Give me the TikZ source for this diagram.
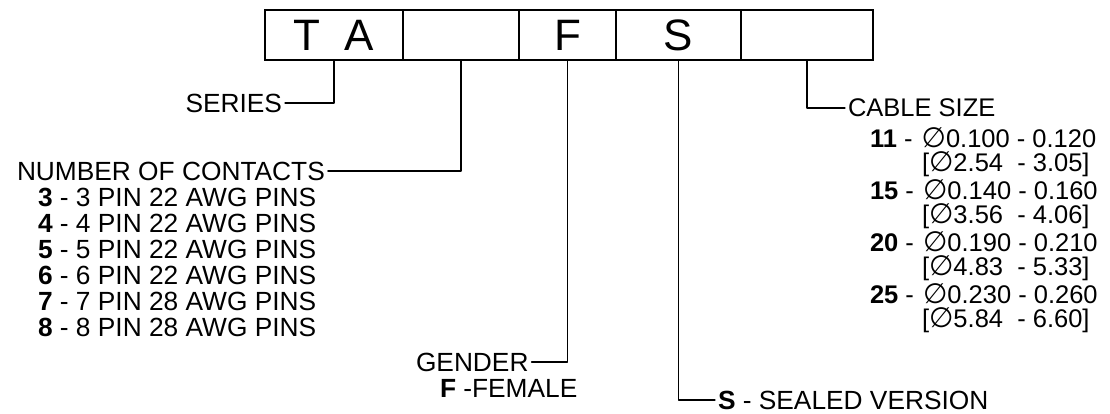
\documentclass[tikz,border=0pt]{standalone}
\usepackage{fontspec}
\setmainfont{Liberation Sans}
\newfontfamily\diafont{DejaVu Sans}
\usetikzlibrary{positioning}
\newcommand{\dia}{{\diafont\fontsize{28}{28}\selectfont ∅}}
\tikzset{
  cell/.style={draw=drawColor,line width=1.3pt,minimum height=50pt,inner sep=0pt,outer sep=0pt,font=\fontsize{44}{44}\selectfont},
  legendText/.style={text=drawColor,inner xsep=3pt,inner ysep=0pt,outer sep=0pt,anchor=west,font=\fontsize{26.3}{26}\selectfont},
  sizeText/.style={legendText,font=\fontsize{25.5}{26}\selectfont},
  leader/.style={draw=drawColor,line width=1.1pt,line join=round,line cap=round}
}
\begin{document}
\begin{tikzpicture}[x=1pt,y=1pt]
\definecolor{drawColor}{RGB}{0,0,0}
\definecolor{fillColor}{RGB}{255,255,255}
\path[use as bounding box,fill=fillColor] (0,0) rectangle (1110,413);

% part number boxes
\node[cell,minimum width=138pt,anchor=north west] (cellTA) at (265,403) {T\hspace{0.55em}A};
\node[cell,minimum width=116pt,right=0pt of cellTA] (cellContacts) {};
\node[cell,minimum width=97pt,right=0pt of cellContacts] (cellGender) {F};
\node[cell,minimum width=125pt,right=0pt of cellGender] (cellSealed) {S};
\node[cell,minimum width=132pt,right=0pt of cellSealed] (cellCable) {};

% left side
\node[legendText,anchor=east] (series) at (285,310) {SERIES};

\node[legendText] (contacts) at (14,242) {NUMBER OF CONTACTS};
\node[legendText] (pin3) at (35,216) {\textbf{3} - 3 PIN 22 AWG PINS};
\node[legendText] (pin4) at (35,190) {\textbf{4} - 4 PIN 22 AWG PINS};
\node[legendText] (pin5) at (35,164) {\textbf{5} - 5 PIN 22 AWG PINS};
\node[legendText] (pin6) at (35,138) {\textbf{6} - 6 PIN 22 AWG PINS};
\node[legendText] (pin7) at (35,112) {\textbf{7} - 7 PIN 28 AWG PINS};
\node[legendText] (pin8) at (35, 86) {\textbf{8} - 8 PIN 28 AWG PINS};

\node[legendText] (gender) at (413,51) {GENDER};
\node[legendText] (female) at (437,25) {\textbf{F} -FEMALE};

\node[legendText] (sealed) at (715,13) {\textbf{S} - SEALED VERSION};

% right side
\node[sizeText] (cable) at (845,305) {CABLE SIZE};
\node[sizeText] (size11) at (867,275) {\textbf{11} -\ \kern2pt\dia0.100 - 0.120};
\node[sizeText] (mm11) at (919,249) {[\dia2.54\ \ - 3.05]};
\node[sizeText] (size15) at (867,223) {\textbf{15} -\ \kern2pt\dia0.140 - 0.160};
\node[sizeText] (mm15) at (919,197) {[\dia3.56\ \ - 4.06]};
\node[sizeText] (size20) at (867,171) {\textbf{20} -\ \kern2pt\dia0.190 - 0.210};
\node[sizeText] (mm20) at (919,145) {[\dia4.83\ \ - 5.33]};
\node[sizeText] (size25) at (867,119) {\textbf{25} -\ \kern2pt\dia0.230 - 0.260};
\node[sizeText] (mm25) at (919, 93) {[\dia5.84\ \ - 6.60]};

% leaders
\path[leader] (series.east) -| (cellTA.south);
\path[leader] (contacts.east) -| (cellContacts.south);
\path[leader] (gender.east) -| (cellGender.south);
\path[leader] (cellSealed.south) |- (sealed.west);
\path[leader] (cellCable.south) |- (cable.west);
\end{tikzpicture}
\end{document}
